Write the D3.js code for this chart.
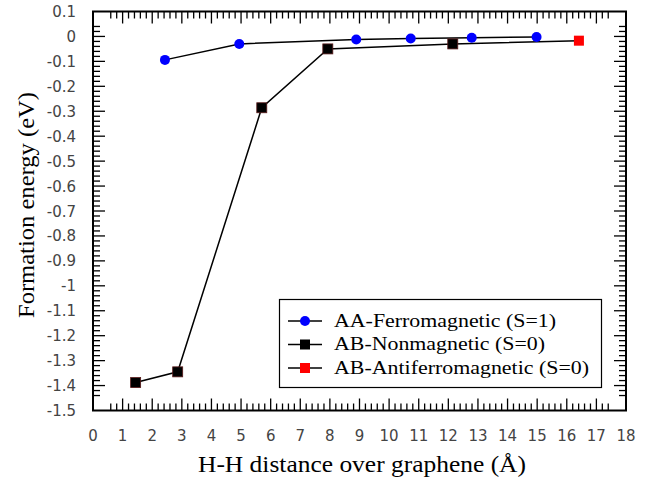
<!DOCTYPE html>
<html>
<head>
<meta charset="utf-8">
<script src="https://cdn.jsdelivr.net/npm/d3@7"></script>
<style>
  body { margin: 0; background: #fff; }
  svg { display: block; }
</style>
</head>
<body>
<svg id="chart" width="663" height="477"></svg>
<script>
// H-H distance (Å) and formation energy (eV)
const aaDist = [2.43, 4.94, 8.89, 10.73, 12.79, 14.98];
const aaEnergy = [-0.094, -0.030, -0.012, -0.008, -0.005, -0.002];

const abDist = [1.44, 2.86, 5.70, 7.93, 12.15];
const abEnergy = [-1.388, -1.345, -0.286, -0.050, -0.030];

const afDist = [16.41];
const afEnergy = [-0.017];

const xTicks = d3.range(0, 19, 1);
const yTicks = d3.range(1, -16, -1).map(d => d / 10);

const legendLabels = ["AA-Ferromagnetic (S=1)", "AB-Nonmagnetic (S=0)", "AB-Antiferromagnetic (S=0)"];
const legendColors = ["#0000ff", "#000000", "#ff0000"];
const legendWidths = [222, 211, 255];

const svg = d3.select("#chart");
const plotL = 93, plotR = 626, plotT = 11.5, plotB = 410.5;

const x = d3.scaleLinear().domain([0, 18]).range([plotL, plotR]);
const y = d3.scaleLinear().domain([0.1, -1.5]).range([plotT, plotB]);

const serif = "'Liberation Serif', serif";
const sans = "'DejaVu Sans', sans-serif";

// ticks point inward, and none are drawn close to the corners
function keep(p, a, b) { return Math.abs(p - a) > 13 && Math.abs(p - b) > 13; }

const xMinor = d3.range(0, 90.5, 1).map(d => d / 5);
const yMinor = d3.range(5, -75.5, -1).map(d => d / 50);

const tickG = svg.append("g").attr("stroke", "#000").attr("stroke-width", 1.3);
xMinor.forEach(v => {
  const px = x(v);
  if (!keep(px, plotL, plotR)) return;
  const len = Math.abs(v - Math.round(v)) < 1e-6 ? 12 : 7;
  tickG.append("line").attr("x1", px).attr("x2", px).attr("y1", plotB).attr("y2", plotB - len);
  tickG.append("line").attr("x1", px).attr("x2", px).attr("y1", plotT).attr("y2", plotT + len);
});
yMinor.forEach(v => {
  const py = y(v);
  if (!keep(py, plotT, plotB)) return;
  const len = Math.abs(v * 10 - Math.round(v * 10)) < 1e-6 ? 12 : 7;
  tickG.append("line").attr("y1", py).attr("y2", py).attr("x1", plotL).attr("x2", plotL + len);
  tickG.append("line").attr("y1", py).attr("y2", py).attr("x1", plotR).attr("x2", plotR - len);
});

svg.append("rect")
  .attr("x", plotL).attr("y", plotT)
  .attr("width", plotR - plotL).attr("height", plotB - plotT)
  .attr("fill", "none").attr("stroke", "#000").attr("stroke-width", 2);

// tick labels
svg.append("g").selectAll("text").data(xTicks).join("text")
  .attr("x", d => x(d)).attr("y", 441)
  .attr("text-anchor", "middle")
  .attr("font-family", sans).attr("font-size", 15).attr("fill", "#444")
  .text(d => d);

svg.append("g").selectAll("text").data(yTicks).join("text")
  .attr("x", 76).attr("y", d => y(d) + 5.5)
  .attr("text-anchor", "end")
  .attr("font-family", sans).attr("font-size", 15).attr("fill", "#444")
  .text(d => String(+d.toFixed(1)));

// axis titles
svg.append("text")
  .attr("x", 362).attr("y", 472)
  .attr("text-anchor", "middle")
  .attr("font-family", serif).attr("font-size", 23).attr("fill", "#000")
  .attr("textLength", 328).attr("lengthAdjust", "spacingAndGlyphs")
  .text("H-H distance over graphene (Å)");

svg.append("text")
  .attr("transform", "translate(33.5,205) rotate(-90)")
  .attr("text-anchor", "middle")
  .attr("font-family", serif).attr("font-size", 23).attr("fill", "#000")
  .attr("textLength", 226).attr("lengthAdjust", "spacingAndGlyphs")
  .text("Formation energy (eV)");

// lines
const line = d3.line().x(d => x(d[0])).y(d => y(d[1]));
const aa = aaDist.map((d, i) => [d, aaEnergy[i]]);
const ab = abDist.map((d, i) => [d, abEnergy[i]]);
const af = afDist.map((d, i) => [d, afEnergy[i]]);

svg.append("path").datum(aa).attr("d", line)
  .attr("fill", "none").attr("stroke", "#000").attr("stroke-width", 1.5);
svg.append("path").datum(ab.concat(af)).attr("d", line)
  .attr("fill", "none").attr("stroke", "#000").attr("stroke-width", 1.5);

// markers
svg.append("g").selectAll("circle").data(aa).join("circle")
  .attr("cx", d => x(d[0])).attr("cy", d => y(d[1])).attr("r", 5)
  .attr("fill", "#0000ff");

svg.append("g").selectAll("rect").data(ab).join("rect")
  .attr("x", d => x(d[0]) - 5).attr("y", d => y(d[1]) - 5)
  .attr("width", 10).attr("height", 10)
  .attr("fill", "#000").attr("stroke", "#5a1a1a").attr("stroke-width", 0.8);

svg.append("g").selectAll("rect").data(af).join("rect")
  .attr("x", d => x(d[0]) - 5).attr("y", d => y(d[1]) - 5)
  .attr("width", 10).attr("height", 10)
  .attr("fill", "#ff0000");

// legend
const lg = svg.append("g");
lg.append("rect")
  .attr("x", 279.5).attr("y", 299.5).attr("width", 322).attr("height", 88)
  .attr("fill", "#fff").attr("stroke", "#000").attr("stroke-width", 1.2);

legendLabels.forEach((lab, i) => {
  const cy = 321 + i * 23.5;
  lg.append("line").attr("x1", 288).attr("x2", 322).attr("y1", cy).attr("y2", cy)
    .attr("stroke", "#000").attr("stroke-width", 1.5);
  if (i === 0) {
    lg.append("circle").attr("cx", 305).attr("cy", cy).attr("r", 5).attr("fill", legendColors[i]);
  } else {
    lg.append("rect").attr("x", 300).attr("y", cy - 5).attr("width", 10).attr("height", 10)
      .attr("fill", legendColors[i]);
  }
  lg.append("text").attr("x", 334).attr("y", cy + 5.5)
    .attr("font-family", serif).attr("font-size", 19.5).attr("fill", "#000")
    .attr("textLength", legendWidths[i]).attr("lengthAdjust", "spacingAndGlyphs")
    .text(lab);
});
</script>
</body>
</html>
